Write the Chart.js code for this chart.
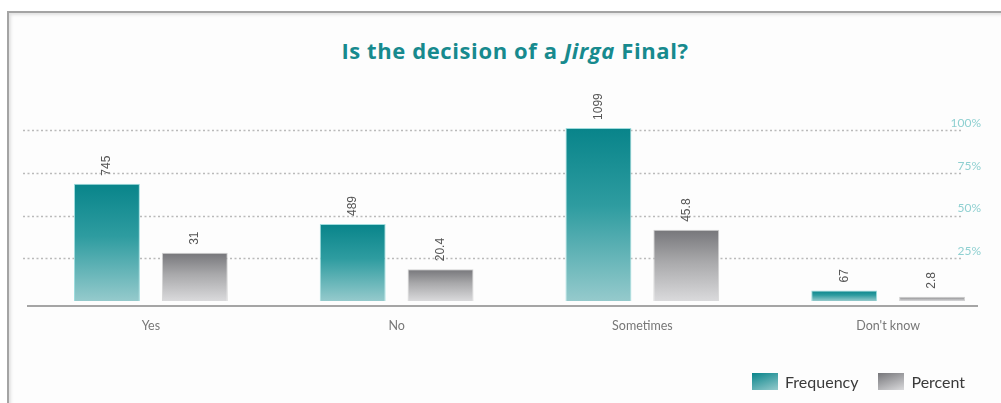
<!DOCTYPE html>
<html lang="en">
<head>
<meta charset="UTF-8">
<title>Is the decision of a Jirga Final?</title>
<style>
  html, body { margin: 0; padding: 0; width: 1001px; height: 403px; overflow: hidden; background: #fff; }
  .moldura {
    position: absolute; left: 7px; top: 11px; width: 1100px; height: 500px;
    border-left: 2px solid #a4a4a4; border-top: 2px solid #a4a4a4;
    background: #fdfdfd; box-shadow: inset 2px 2px 3px #e2e2e2;
  }
  .titulo {
    position: absolute; top: 35px; left: 0; width: 1030px; text-align: center;
    font: bold 22px "Open Sans", sans-serif; color: #178a8e; letter-spacing: 0.6px;
  }
  .titulo em { font-style: italic; }
  #grafico { position: absolute; left: 0; top: 0; }
  .legenda {
    position: absolute; left: 752px; top: 372px; display: flex; align-items: center;
    font: 16px Lato, sans-serif; color: #3a3a3a;
  }
  .legenda .caixa { width: 26px; height: 17px; margin-right: 7px; }
  .legenda span.texto { margin-right: 20px; }
</style>
</head>
<body>
  <div class="moldura"></div>
  <div class="titulo">Is the decision of a <em>Jirga</em> Final?</div>
  <canvas id="grafico" width="1012" height="403"></canvas>
  <div class="legenda" id="legenda"></div>

<script src="https://cdn.jsdelivr.net/npm/chart.js"></script>
<script>
const categorias = ['Yes', 'No', 'Sometimes', "Don't know"];
const frequencia = [745, 489, 1099, 67];
const percentual = [31, 20.4, 45.8, 2.8];
const ticksPercent = [25, 50, 75, 100];

const coresFreq = ['#08848a', '#2e9ca0', '#95cacc'];
const coresPct = ['#76767a', '#a9a9ab', '#dadadc'];

// gradiente vertical por barra, do topo da barra até a base
function gradienteBarra(cores) {
  return (ctx) => {
    const chart = ctx.chart;
    if (!chart.chartArea || ctx.type !== 'data') return cores[1];
    const escala = chart.scales[ctx.dataset.yAxisID];
    const topo = escala.getPixelForValue(ctx.parsed.y);
    const base = escala.getPixelForValue(0);
    if (!isFinite(topo) || base - topo < 1) return cores[1];
    const g = chart.ctx.createLinearGradient(0, topo, 0, base);
    g.addColorStop(0, cores[0]);
    g.addColorStop(0.45, cores[1]);
    g.addColorStop(1, cores[2]);
    return g;
  };
}

// linhas pontilhadas nos ticks de % e linha da base
const guias = {
  id: 'guias',
  beforeDatasetsDraw(chart) {
    const { ctx, chartArea } = chart;
    const escala = chart.scales.eixoPct;
    ctx.save();
    ctx.strokeStyle = '#bababa';
    ctx.lineWidth = 1.5;
    ctx.setLineDash([2, 2.5]);
    escala.ticks.forEach(t => {
      const y = Math.round(escala.getPixelForValue(t.value)) + 0.5;
      ctx.beginPath();
      ctx.moveTo(chartArea.left - 5, y);
      ctx.lineTo(chartArea.right - 48, y);
      ctx.stroke();
    });
    ctx.setLineDash([]);
    ctx.strokeStyle = '#a5a5a5';
    ctx.lineWidth = 2;
    const base = chartArea.bottom + 5;
    ctx.beginPath();
    ctx.moveTo(chartArea.left - 1, base);
    ctx.lineTo(chartArea.right - 33, base);
    ctx.stroke();
    ctx.restore();
  }
};

// valores escritos na vertical acima de cada barra
const rotulos = {
  id: 'rotulos',
  afterDatasetsDraw(chart) {
    const ctx = chart.ctx;
    ctx.save();
    ctx.font = '12px "Liberation Sans", Arial, sans-serif';
    ctx.fillStyle = '#555';
    ctx.textAlign = 'left';
    ctx.textBaseline = 'middle';
    chart.data.datasets.forEach((ds, i) => {
      chart.getDatasetMeta(i).data.forEach((barra, j) => {
        ctx.save();
        ctx.translate(barra.x, barra.y - 8);
        ctx.rotate(-Math.PI / 2);
        ctx.fillText(String(ds.data[j]), 0, 0);
        ctx.restore();
      });
    });
    ctx.restore();
  }
};

const grafico = new Chart(document.getElementById('grafico'), {
  type: 'bar',
  data: {
    labels: categorias,
    datasets: [
      {
        label: 'Frequency',
        data: frequencia,
        yAxisID: 'eixoFreq',
        backgroundColor: gradienteBarra(coresFreq),
        borderColor: '#9edcdd',
        borderWidth: 1,
        clip: false
      },
      {
        label: 'Percent',
        data: percentual,
        yAxisID: 'eixoPctBarras',
        backgroundColor: gradienteBarra(coresPct),
        borderColor: '#d2d2d2',
        borderWidth: 1,
        clip: false
      }
    ]
  },
  options: {
    responsive: false,
    animation: false,
    categoryPercentage: 0.715,
    barPercentage: 0.75,
    layout: { padding: { top: 130, left: 28, right: 1, bottom: 61 } },
    plugins: {
      legend: { display: false },
      title: { display: false },
      tooltip: { enabled: false }
    },
    scales: {
      x: {
        offset: true,
        grid: { display: false },
        border: { display: false },
        ticks: { color: '#777', padding: 9, font: { family: 'Lato', size: 12.5 } }
      },
      eixoFreq: { display: false, min: 0, max: 1086 },
      eixoPctBarras: { display: false, min: 0, max: 110 },
      eixoPct: {
        position: 'right',
        min: 0,
        max: 100,
        afterBuildTicks: s => { s.ticks = ticksPercent.map(v => ({ value: v })); },
        afterFit: s => { s.width = 0; },
        grid: { display: false },
        border: { display: false },
        ticks: {
          mirror: true,
          padding: -30,
          labelOffset: -7,
          color: '#8fd0d1',
          font: { family: 'Lato', size: 12 },
          callback: v => v + '%'
        }
      }
    }
  },
  plugins: [guias, rotulos]
});

// legenda em HTML a partir dos datasets
const legenda = document.getElementById('legenda');
[coresFreq, coresPct].forEach((cores, i) => {
  const caixa = document.createElement('span');
  caixa.className = 'caixa';
  caixa.style.background = `linear-gradient(160deg, ${cores[0]}, ${cores[2]})`;
  const texto = document.createElement('span');
  texto.className = 'texto';
  texto.textContent = grafico.data.datasets[i].label;
  legenda.appendChild(caixa);
  legenda.appendChild(texto);
});
</script>
</body>
</html>
